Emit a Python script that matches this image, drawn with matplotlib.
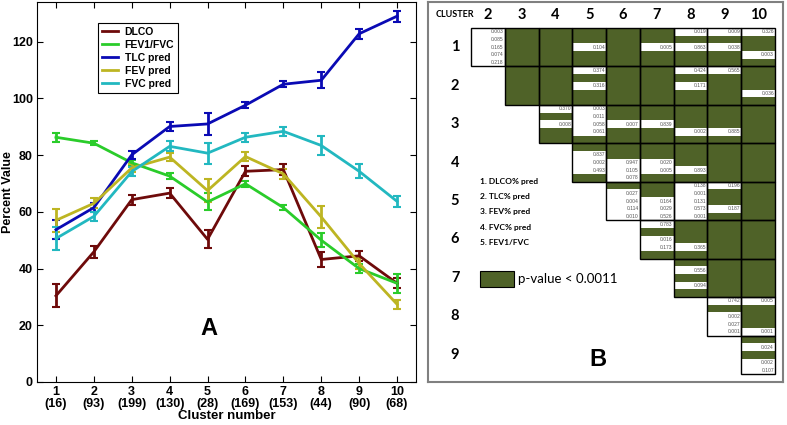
import matplotlib.pyplot as plt
from matplotlib.patches import Rectangle

plt.rcParams['font.family'] = ['Liberation Sans', 'DejaVu Sans']

# ---- panel A data: cluster means and error bars
clusters = [1, 2, 3, 4, 5, 6, 7, 8, 9, 10]
cluster_sizes = [16, 93, 199, 130, 28, 169, 153, 44, 90, 68]

dlco = [30.4, 45.9, 64.3, 66.6, 50.3, 74.3, 74.9, 43.2, 44.5, 34.8]
dlco_err = [4.0, 2.0, 1.8, 1.8, 3.2, 1.8, 1.8, 2.6, 1.8, 1.8]
fev1_fvc = [86.3, 84.2, 77.3, 72.6, 63.5, 69.9, 61.5, 50.0, 40.0, 34.8]
fev1_fvc_err = [1.5, 0.7, 1.0, 1.0, 3.0, 1.0, 1.0, 2.5, 1.5, 3.3]
tlc = [53.7, 61.5, 80.1, 90.1, 91.0, 97.6, 105.0, 106.4, 122.8, 129.0]
tlc_err = [3.3, 1.5, 1.5, 1.5, 4.0, 1.0, 1.0, 2.8, 1.8, 2.0]
fev = [57.0, 63.0, 75.5, 79.3, 67.5, 79.5, 73.4, 58.2, 41.8, 27.4]
fev_err = [4.0, 1.8, 1.5, 1.5, 4.0, 1.5, 1.8, 4.0, 1.8, 1.5]
fvc = [50.6, 58.4, 74.2, 83.1, 80.7, 86.3, 88.4, 83.4, 74.3, 63.7]
fvc_err = [4.0, 1.5, 1.5, 1.8, 3.7, 1.5, 1.5, 3.2, 2.5, 2.0]

# ---- panel B data: p-values per pair of clusters, 5 variables per cell
# S = significant (p < 0.0011), drawn as a green bar
S = None
col_clusters = [2, 3, 4, 5, 6, 7, 8, 9, 10]
row_clusters = [1, 2, 3, 4, 5, 6, 7, 8, 9]
p_row1 = [['0.003', '0.085', '0.165', '0.074', '0.218'], [S] * 5, [S] * 5,
          [S, S, '0.104', S, S], [S] * 5, [S, S, '0.005', S, S],
          ['0.019', S, '0.863', S, S], ['0.009', S, '0.038', S, S],
          ['0.326', S, S, '0.003', S]]
p_row2 = [[S] * 5, [S] * 5, ['0.374', S, '0.316', S, S], [S] * 5, [S] * 5,
          ['0.424', S, '0.171', S, S], ['0.565', S, S, S, S],
          [S, S, S, '0.036', S]]
p_row3 = [['0.370', S, '0.008', S, S], ['0.003', '0.011', '0.058', '0.061', S],
          [S, S, '0.007', S, S], [S, S, '0.839', S, S], [S, S, S, '0.002', S],
          [S, S, S, '0.885', S], [S] * 5]
p_row4 = [[S, '0.837', '0.002', '0.493', S], [S, S, '0.947', '0.105', '0.078'],
          [S, S, '0.020', '0.005', S], [S, S, S, '0.893', S], [S] * 5, [S] * 5]
p_row5 = [[S, '0.027', '0.004', '0.114', '0.010'], [S, S, '0.164', '0.029', '0.526'],
          ['0.138', '0.001', '0.131', '0.573', '0.001'],
          ['0.196', S, S, '0.187', S], [S] * 5]
p_row6 = [['0.783', S, '0.016', '0.173', S], [S, S, S, '0.365', S], [S] * 5, [S] * 5]
p_row7 = [[S, '0.556', S, '0.094', S], [S] * 5, [S] * 5]
p_row8 = [['0.742', S, '0.002', '0.027', '0.001'], ['0.005', S, S, S, '0.001']]
p_row9 = [[S, '0.024', S, '0.002', '0.107']]
p_rows = [p_row1, p_row2, p_row3, p_row4, p_row5, p_row6, p_row7, p_row8, p_row9]

variables = ['1. DLCO% pred', '2. TLC% pred', '3. FEV% pred', '4. FVC% pred', '5. FEV1/FVC']

green = '#4F6228'
fig = plt.figure(figsize=(7.87, 4.25), dpi=100)

# ================= panel A
ax = fig.add_axes([37 / 787, 1 - 382 / 425, 379 / 787, 380 / 425])
series = [('DLCO', dlco, dlco_err, '#6E0A0A'),
          ('FEV1/FVC', fev1_fvc, fev1_fvc_err, '#2ACC2A'),
          ('TLC pred', tlc, tlc_err, '#0A0AB4'),
          ('FEV pred', fev, fev_err, '#BDB522'),
          ('FVC pred', fvc, fvc_err, '#22B8C0')]
handles = []
for name, y, e, c in series:
    ax.errorbar(clusters, y, yerr=e, color=c, lw=2, elinewidth=2,
                capsize=3, capthick=1.5)
    handles.append(plt.Line2D([], [], color=c, lw=2, label=name))

ax.set_xlim(0.5, 10.5)
ax.set_ylim(0, 134)
ax.set_yticks([0, 20, 40, 60, 80, 100, 120])
ax.set_xticks(clusters)
ax.set_xticklabels([f'{c}\n({n})' for c, n in zip(clusters, cluster_sizes)],
                   fontsize=9, fontweight='bold', linespacing=1.0)
for t in ax.get_yticklabels():
    t.set_fontsize(9)
    t.set_fontweight('bold')
ax.tick_params(direction='in', length=4, top=True, right=True, pad=3)
ax.set_xlabel('Cluster number', fontsize=9.5, fontweight='bold', labelpad=0)
ax.set_ylabel('Percent Value', fontsize=9, fontweight='bold')
ax.yaxis.set_label_coords(-0.062, 0.5)
ax.text(5.03, 19, 'A', fontsize=17, fontweight='bold', ha='center', va='center')

leg = ax.legend(handles=handles, loc='upper left', bbox_to_anchor=(0.161, 0.945),
                borderaxespad=0, fancybox=False, edgecolor='black', fontsize=7.5,
                handlelength=1.6, labelspacing=0.3, borderpad=0.35,
                handletextpad=0.6, framealpha=1)
for t in leg.get_texts():
    t.set_fontweight('bold')
leg.get_frame().set_linewidth(0.8)

# ================= panel B
bx = fig.add_axes([428 / 787, 1 - 382 / 425, 355 / 787, 380 / 425])
bx.set_xlim(0.228, 10.737)
bx.set_ylim(9.708, -0.177)
bx.set_xticks([])
bx.set_yticks([])
for sp in bx.spines.values():
    sp.set_color('#808080')
    sp.set_linewidth(1.5)

fnt = 'Lato'
bx.text(1.03, 0.16, 'CLUSTER', fontsize=6.5, fontweight='bold', family=fnt,
        ha='center', va='center')
for c in col_clusters:
    bx.text(c, 0.16, str(c), fontsize=10.5, fontweight='bold', family=fnt,
            ha='center', va='center')
for r in row_clusters:
    bx.text(1.03, r, str(r), fontsize=10.5, fontweight='bold', family=fnt,
            ha='center', va='center')

sub = 1 / 5
for r, row in zip(row_clusters, p_rows):
    for k, cell in enumerate(row):
        c = r + 1 + k
        x0, y0 = c - 0.5, r - 0.5
        for v, p in enumerate(cell):
            ys = y0 + v * sub
            if p is None:
                bx.add_patch(Rectangle((x0, ys), 1, sub, facecolor=green,
                                       edgecolor='none', zorder=1))
            else:
                bx.add_patch(Rectangle((x0, ys), 1, sub, facecolor='white',
                                       edgecolor='none', zorder=1))
                bx.text(x0 + 0.97, ys + sub / 2, p, fontsize=3.6, color='#555555',
                        ha='right', va='center', zorder=3)
        bx.add_patch(Rectangle((x0, y0), 1, 1, fill=False, edgecolor='black',
                               lw=1.0, zorder=2))

for i, name in enumerate(variables):
    bx.text(1.77, 4.48 + i * 0.4, name, fontsize=6, fontweight='bold', family=fnt,
            ha='left', va='center')
bx.add_patch(Rectangle((1.77, 6.83), 1.0, 0.41, facecolor=green,
                       edgecolor='black', lw=0.8))
bx.text(2.89, 7.04, 'p-value < 0.0011', fontsize=9.5, family=fnt,
        ha='left', va='center')
bx.text(5.26, 9.12, 'B', fontsize=17, fontweight='bold', ha='center', va='center')

fig.savefig('out.png', dpi=100)
